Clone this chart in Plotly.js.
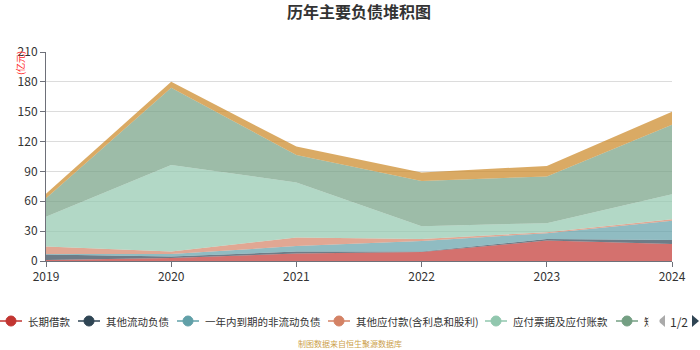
<!DOCTYPE html>
<html>
<head>
<meta charset="utf-8">
<script src="https://cdn.plot.ly/plotly-3.0.1.min.js"></script>
<style>html,body{margin:0;padding:0;background:#fff;}#chart{width:700px;height:350px;}</style>
</head>
<body>
<div id="chart"></div>
<script>
// ---- data ----
const years = [2019, 2020, 2021, 2022, 2023, 2024];
const yearLabels = ["2019", "2020", "2021", "2022", "2023", "2024"];
const seriesNames = ["长期借款", "其他流动负债", "一年内到期的非流动负债", "其他应付款(含利息和股利)", "应付票据及应付账款", "短期借款", "合同负债"];
const longLoan      = [1, 3, 7.5, 9, 20.5, 17];
const otherCurrent  = [5.5, 1.5, 2, 0.5, 1.5, 4];
const dueInOneYear  = [0.5, 2.5, 5.5, 10.5, 6, 19.5];
const otherPayables = [7.5, 2.5, 8.5, 2, 1, 1.5];
const notesPayable  = [30, 87, 55.5, 13, 9, 25];
const shortLoan     = [18.5, 77.5, 27.5, 45.5, 47, 70];
const contractLiab  = [4.5, 6, 8.5, 8.5, 10.5, 13];
const seriesValues = [longLoan, otherCurrent, dueInOneYear, otherPayables, notesPayable, shortLoan, contractLiab];
const yTicks = [0, 30, 60, 90, 120, 150, 180, 210];

// ---- style ----
const colors = ["#c23531", "#2f4554", "#61a0a8", "#d48265", "#91c7ae", "#749f83", "#ca8622"];
function rgba(hex, a) {
  const r = parseInt(hex.slice(1, 3), 16), g = parseInt(hex.slice(3, 5), 16), b = parseInt(hex.slice(5, 7), 16);
  return `rgba(${r},${g},${b},${a})`;
}
const FONT = '"Noto Sans CJK SC", "Noto Sans", sans-serif';

const traces = seriesValues.map((vals, i) => ({
  type: 'scatter', mode: 'lines', x: years, y: vals, name: seriesNames[i],
  stackgroup: 'one', line: {width: 0, color: colors[i]},
  fillcolor: rgba(colors[i], 0.7), showlegend: false, hoverinfo: 'skip'
}));

// plot area in pixels
const L = 46, R = 672, T = 52, B = 261;
const px = v => (v - L) / (R - L);
const py = v => (B - v) / (B - T);

const shapes = [];
const annotations = [];

// manual legend (page 1 of 2)
const legendStarts = [0, 78, 177, 328, 485, 616];
const legY = 321;
legendStarts.forEach((x0, i) => {
  shapes.push({type: 'line', xref: 'paper', yref: 'paper', x0: px(x0), x1: px(x0 + 22), y0: py(legY), y1: py(legY),
    line: {color: colors[i], width: 1.5}});
  shapes.push({type: 'circle', xref: 'paper', yref: 'paper', x0: px(x0 + 6), x1: px(x0 + 16), y0: py(legY - 5), y1: py(legY + 5),
    fillcolor: colors[i], line: {color: colors[i], width: 1}});
  annotations.push({xref: 'paper', yref: 'paper', x: px(x0 + 26), y: py(legY), xanchor: 'left', yanchor: 'middle',
    text: i === 5 ? seriesNames[i].slice(0, 1) : seriesNames[i], showarrow: false, font: {family: FONT, size: 10.5, color: '#333'}});
});
// clip cover for the truncated last legend item
annotations.push({xref: 'paper', yref: 'paper', x: px(648), y: py(legY), xanchor: 'left', yanchor: 'middle',
  text: ' ', width: 8, height: 16, bgcolor: '#ffffff', showarrow: false, font: {size: 11}});
// page controls
shapes.push({type: 'path', xref: 'paper', yref: 'paper',
  path: `M ${px(665)} ${py(legY - 6)} L ${px(658)} ${py(legY)} L ${px(665)} ${py(legY + 6)} Z`,
  fillcolor: '#aaaaaa', line: {width: 0}});
shapes.push({type: 'path', xref: 'paper', yref: 'paper',
  path: `M ${px(692)} ${py(legY - 6)} L ${px(699)} ${py(legY)} L ${px(692)} ${py(legY + 6)} Z`,
  fillcolor: '#2f4554', line: {width: 0}});
annotations.push({xref: 'paper', yref: 'paper', x: px(679), y: py(legY), xanchor: 'center', yanchor: 'middle',
  text: '1/2', showarrow: false, font: {family: FONT, size: 12, color: '#333'}});

// unit label
annotations.push({xref: 'paper', yref: 'paper', x: px(20), y: py(63), xanchor: 'center', yanchor: 'middle',
  text: '(亿元)', textangle: -90, showarrow: false, font: {family: FONT, size: 9, color: '#ff2020'}});
// footer
annotations.push({xref: 'paper', yref: 'paper', x: px(350), y: py(343), xanchor: 'center', yanchor: 'middle',
  text: '制图数据来自恒生聚源数据库', showarrow: false, font: {family: FONT, size: 8, color: '#cc9f4b'}});

const layout = {
  width: 700, height: 350,
  margin: {l: L, r: 700 - R, t: T, b: 350 - B, pad: 0},
  paper_bgcolor: '#fff', plot_bgcolor: '#fff',
  font: {family: FONT, color: '#333'},
  title: {text: '<b>历年主要负债堆积图</b>', x: 0.5, xref: 'paper', xanchor: 'center', y: 1 - 12 / 350, yref: 'container', yanchor: 'middle',
    font: {family: FONT, size: 16, color: '#333'}},
  showlegend: false,
  xaxis: {range: [years[0], years[years.length - 1]], tickvals: years, ticktext: yearLabels,
    showgrid: false, zeroline: false, showline: true, linecolor: '#6e7079', linewidth: 1,
    ticks: 'outside', ticklen: 5, tickcolor: '#6e7079', tickfont: {family: FONT, size: 12, color: '#333'}},
  yaxis: {range: [0, 210], tickvals: yTicks, ticktext: yTicks.map(String),
    showgrid: true, gridcolor: '#dcdcdc', gridwidth: 1, zeroline: false, showline: true, linecolor: '#6e7079', linewidth: 1,
    ticks: 'outside', ticklen: 5, tickcolor: '#6e7079', tickfont: {family: FONT, size: 12, color: '#333'}},
  shapes: shapes,
  annotations: annotations
};

Plotly.newPlot('chart', traces, layout, {staticPlot: true, displayModeBar: false});
</script>
</body>
</html>
